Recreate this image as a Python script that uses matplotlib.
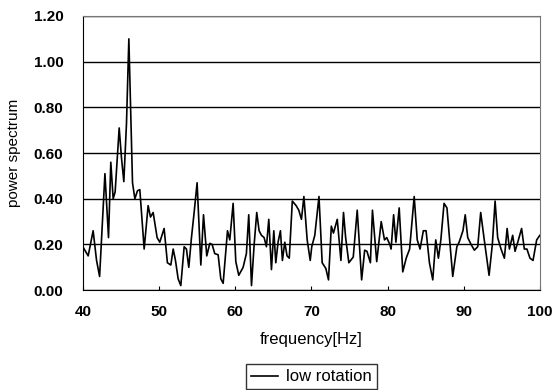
import matplotlib.pyplot as plt

# Spectrum samples (frequency in Hz, power)
freq = [40.0, 40.7, 41.35, 41.8, 42.2, 42.9, 43.37, 43.67, 43.98, 44.24,
        44.77, 45.07, 45.38, 45.73, 46.04, 46.52, 46.83, 47.17, 47.48, 48.05,
        48.57, 48.88, 49.23, 49.75, 50.1, 50.67, 51.1, 51.55, 51.86, 52.16,
        52.51, 52.86, 53.3, 53.6, 53.91, 54.26, 54.61, 55.0, 55.49, 55.84,
        56.27, 56.67, 56.97, 57.32, 57.76, 58.11, 58.42, 58.99, 59.29, 59.73,
        60.08, 60.47, 61.04, 61.47, 61.78, 62.14, 62.49, 62.83, 63.14, 63.45,
        63.8, 64.1, 64.41, 64.76, 65.07, 65.33, 65.63, 65.94, 66.2, 66.51,
        66.81, 67.1, 67.5, 68.0, 68.35, 68.7, 69.02, 69.45, 69.85, 70.05,
        70.45, 71.0, 71.42, 71.9, 72.25, 72.62, 72.9, 73.4, 73.88, 74.22,
        74.5, 74.92, 75.5, 76.02, 76.6, 77.0, 77.3, 77.75, 78.02, 78.58,
        79.17, 79.6, 79.9, 80.3, 80.47, 80.8, 81.1, 81.53, 82.0, 82.45,
        82.9, 83.5, 83.9, 84.27, 84.7, 85.06, 85.5, 85.94, 86.33, 86.68,
        87.0, 87.42, 87.8, 88.2, 88.56, 89.1, 89.4, 89.9, 90.2, 90.53,
        90.97, 91.4, 91.84, 92.23, 92.7, 93.33, 93.76, 94.12, 94.46, 94.9,
        95.34, 95.7, 96.0, 96.43, 96.74, 97.1, 97.6, 97.96, 98.3, 98.7,
        99.1, 99.58, 100.0]
power = [0.19, 0.15, 0.26, 0.13, 0.06, 0.51, 0.23, 0.56, 0.40, 0.43,
         0.71, 0.58, 0.475, 0.73, 1.10, 0.47, 0.40, 0.435, 0.44, 0.18,
         0.37, 0.32, 0.34, 0.23, 0.21, 0.27, 0.12, 0.11, 0.18, 0.13,
         0.05, 0.02, 0.19, 0.18, 0.10, 0.23, 0.34, 0.47, 0.11, 0.33,
         0.15, 0.205, 0.20, 0.16, 0.155, 0.05, 0.03, 0.26, 0.22, 0.38,
         0.125, 0.065, 0.10, 0.16, 0.33, 0.02, 0.20, 0.34, 0.26, 0.24,
         0.23, 0.19, 0.31, 0.09, 0.26, 0.12, 0.21, 0.26, 0.13, 0.21,
         0.15, 0.14, 0.39, 0.37, 0.35, 0.31, 0.41, 0.22, 0.13, 0.19,
         0.24, 0.41, 0.12, 0.095, 0.045, 0.28, 0.25, 0.31, 0.13, 0.34,
         0.23, 0.12, 0.145, 0.35, 0.045, 0.175, 0.17, 0.12, 0.35, 0.125,
         0.30, 0.22, 0.23, 0.20, 0.18, 0.33, 0.21, 0.36, 0.08, 0.14,
         0.18, 0.41, 0.22, 0.18, 0.26, 0.26, 0.12, 0.045, 0.22, 0.14,
         0.22, 0.38, 0.36, 0.20, 0.06, 0.19, 0.21, 0.26, 0.33, 0.23,
         0.20, 0.175, 0.19, 0.34, 0.22, 0.065, 0.20, 0.39, 0.23, 0.18,
         0.14, 0.27, 0.18, 0.24, 0.17, 0.21, 0.27, 0.18, 0.18, 0.14,
         0.13, 0.22, 0.24]

xticks = [40, 50, 60, 70, 80, 90, 100]
yticks = [0.0, 0.2, 0.4, 0.6, 0.8, 1.0, 1.2]

plt.rcParams['font.family'] = ['Liberation Sans', 'DejaVu Sans']

fig = plt.figure(figsize=(5.56, 3.9), dpi=100)
ax = fig.add_axes([0.149, 0.256, 0.822, 0.703])

ax.plot(freq, power, color='black', linewidth=1.2, label='low rotation')

ax.set_xlim(40, 100)
ax.set_ylim(0, 1.2)
ax.set_xticks(xticks)
ax.set_yticks(yticks)
ax.set_yticklabels(['%.2f' % v for v in yticks])
ax.tick_params(axis='x', direction='in', length=3, pad=11, labelsize=11)
ax.tick_params(axis='y', length=0, pad=14, labelsize=11)
for lbl in ax.get_xticklabels() + ax.get_yticklabels():
    lbl.set_fontweight('bold')

ax.grid(axis='y', color='black', linewidth=1.0)
for side in ['left', 'bottom']:
    ax.spines[side].set_color('black')
for side in ['top', 'right']:
    ax.spines[side].set_color('#777777')
ax.set_axisbelow(True)

ax.set_xlabel('frequency[Hz]', fontsize=12, labelpad=9)
ax.set_ylabel('power spectrum', fontsize=11, labelpad=9)

fig.legend(loc='lower center', bbox_to_anchor=(0.56, -0.02), fontsize=12,
           frameon=True, fancybox=False, edgecolor='black', handlelength=1.6,
           borderpad=0.3, handletextpad=0.5)

plt.savefig('out.png', dpi=100)
